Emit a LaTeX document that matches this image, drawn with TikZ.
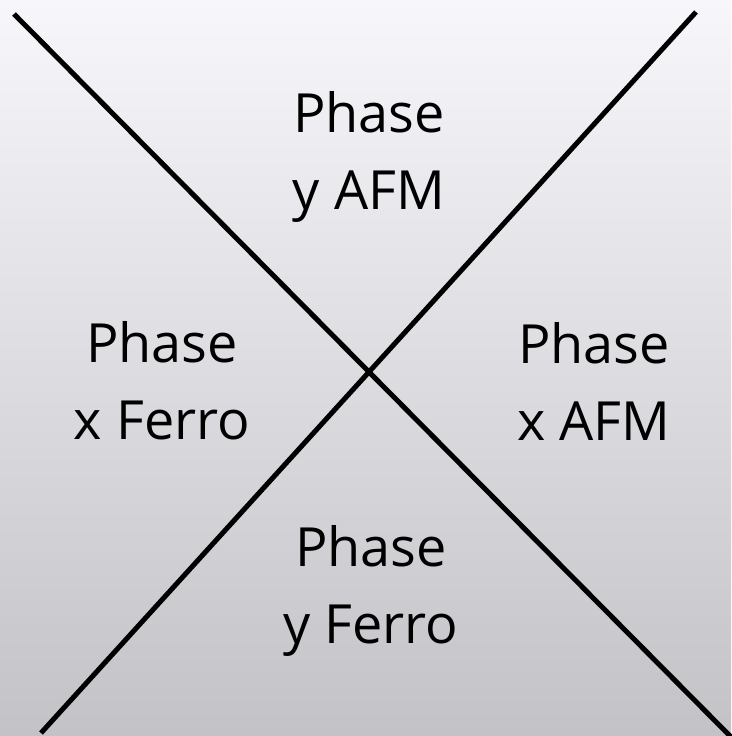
\documentclass[tikz,border=0pt]{standalone}
\usepackage{fontspec}
\setmainfont{Open Sans}
\begin{document}
\begin{tikzpicture}[x=1pt,y=-1pt,
  phaselabel/.style={font=\fontsize{54}{77}\selectfont, align=center, text=black, inner sep=0pt},
  divider/.style={line width=5pt, black}]
  % background with vertical fade
  \shade[top color={rgb,255:red,246;green,246;blue,251}, bottom color={rgb,255:red,194;green,194;blue,199}]
    (0,0) rectangle (731,736);
  \useasboundingbox (0,0) rectangle (731,736);
  % phase boundaries
  \coordinate (tl) at (14,14);
  \coordinate (br) at (736,742);
  \coordinate (tr) at (696,12);
  \coordinate (bl) at (41,733);
  \draw[divider] (tl) -- (br);
  \draw[divider] (tr) -- (bl);
  % phase labels
  \node[phaselabel] (top) at (369,157) {Phase\\y AFM};
  \node[phaselabel] (left) at (162,381) {Phase\\x Ferro};
  \node[phaselabel] (right) at (594,381) {Phase\\x AFM};
  \node[phaselabel] (bottom) at (371,591) {Phase\\y Ferro};
\end{tikzpicture}
\end{document}
